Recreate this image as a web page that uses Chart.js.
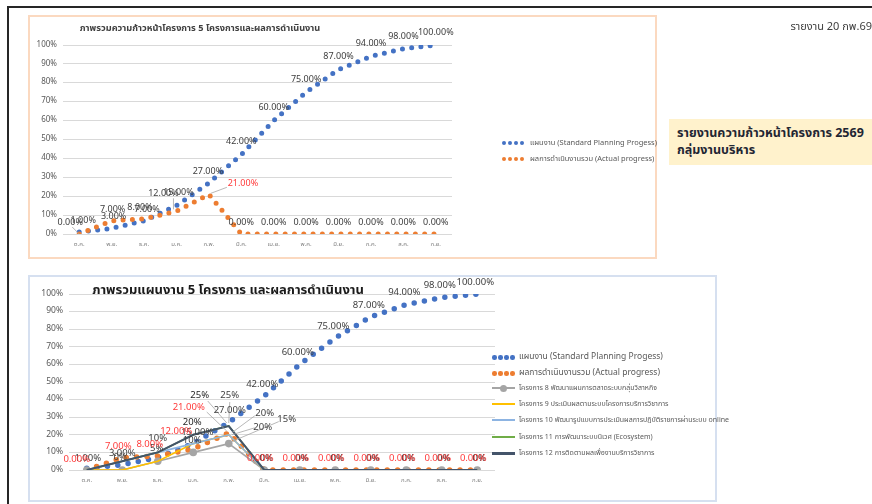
<!DOCTYPE html>
<html>
<head>
<meta charset="utf-8">
<script src="https://cdn.jsdelivr.net/npm/chart.js@4.4.1/dist/chart.umd.min.js"></script>
<style>
  body { margin: 0; background: #fff; }
  #page { position: relative; width: 872px; height: 504px; overflow: hidden;
          font-family: "Noto Sans Thai", Tahoma, "DejaVu Sans", "Noto Sans", sans-serif; }
  .abs { position: absolute; }
  .frameTop { left: 7px; top: 6px; width: 865px; height: 2px; background: #262626; }
  .frameLeft { left: 7px; top: 6px; width: 2px; height: 498px; background: #262626; }
  #box1 { left: 28px; top: 15px; width: 629px; height: 244px; box-sizing: border-box; border: 2px solid #fbd9c0; }
  #box2 { left: 28px; top: 275px; width: 689px; height: 227px; box-sizing: border-box; border: 2px solid #d6e0f0; }
  #c1wrap { left: 30px; top: 17px; width: 625px; height: 240px; }
  #c2wrap { left: 30px; top: 277px; width: 685px; height: 222px; }
  .title1 { left: 60px; width: 280px; top: 21px; text-align: center; font-size: 9.2px; font-weight: bold; color: #404040; white-space: nowrap; }
  .title2 { left: 78px; width: 300px; top: 280px; text-align: center; font-size: 13px; font-weight: bold; color: #1a1a1a; white-space: nowrap; }
  .leg { font-size: 7.5px; color: #595959; white-space: nowrap; line-height: 10px; }
  .dots { position: absolute; width: 24px; height: 4px; }
  .dots i { position: absolute; top: 0; width: 4px; height: 4px; border-radius: 50%; }
  .ln { position: absolute; height: 2px; width: 23px; }
  .report { right: 0; top: 18px; font-size: 11px; color: #404040; white-space: nowrap; }
  .hl { left: 669px; top: 119px; width: 210px; height: 46px; background: #fff2cc; }
  .hl div { position: absolute; left: 8px; font-size: 12.5px; font-weight: bold; color: #1f2633; white-space: nowrap; }
</style>
</head>
<body>
<div id="page">
  <div class="abs frameTop"></div>
  <div class="abs frameLeft"></div>
  <div class="abs" id="box1"></div>
  <div class="abs" id="box2"></div>
  <div class="abs" id="c1wrap"><canvas id="chart1"></canvas></div>
  <div class="abs" id="c2wrap"><canvas id="chart2"></canvas></div>
  <div class="abs title1">ภาพรวมความก้าวหน้าโครงการ 5 โครงการและผลการดำเนินงาน</div>
  <div class="abs title2">ภาพรวมแผนงาน 5 โครงการ และผลการดำเนินงาน</div>

  <div class="abs report">รายงาน 20 กพ.69</div>
  <div class="abs hl">
    <div style="top:5px">รายงานความก้าวหน้าโครงการ 2569</div>
    <div style="top:22px">กลุ่มงานบริหาร</div>
  </div>
</div>

<script>
const FONT = '"Noto Sans Thai", Tahoma, "DejaVu Sans", "Noto Sans", sans-serif';

// เดือนปีงบประมาณ
const months = ["ต.ค.", "พ.ย.", "ธ.ค.", "ม.ค.", "ก.พ.", "มี.ค.", "เม.ย.", "พ.ค.", "มิ.ย.", "ก.ค.", "ส.ค.", "ก.ย."];

// แผนงาน / ผลการดำเนินงานรวม (%)
const planned = [1, 3, 7, 15, 27, 42, 60, 75, 87, 94, 98, 100];
const actual = [0, 7, 8, 12, 21, 0, 0, 0, 0, 0, 0, 0];

// รายโครงการ (%)
const project8 = [0, 0, 5, 10, 15, 0, 0, 0, 0, 0, 0, 0];
const project9 = [0, 0, 5, 15, 20, 0, 0, 0, 0, 0, 0, 0];
const project10 = [0, 5, 10, 15, 20, 0, 0, 0, 0, 0, 0, 0];
const project11 = [0, 5, 10, 20, 25, 0, 0, 0, 0, 0, 0, 0];
const project12 = [0, 5, 10, 20, 25, 0, 0, 0, 0, 0, 0, 0];

const yTicks = [0, 10, 20, 30, 40, 50, 60, 70, 80, 90, 100];

const legendMain = ["แผนงาน (Standard Planning Progess)", "ผลการดำเนินงานรวม (Actual progress)"];
const legendProjects = [
  "โครงการ 8 พัฒนาแผนการตลาดระบบกลุ่มวิสาหกิจ",
  "โครงการ 9 ประเมินผลตามระบบโครงการบริการวิชาการ",
  "โครงการ 10 พัฒนารูปแบบการประเมินผลการปฏิบัติราชการผ่านระบบ online",
  "โครงการ 11 การพัฒนาระบบนิเวศ (Ecosystem)",
  "โครงการ 12 การติดตามผลเพื่องานบริการวิชาการ",
];

const BLUE = "#4472c4", ORANGE = "#ed7d31", GRAY = "#a5a5a5", YELLOW = "#ffc000",
      LBLUE = "#8db4e2", GREEN = "#70ad47", NAVY = "#44546a", RED = "#ff3b3b", TXT = "#404040";

const pct2 = (v) => v.toFixed(2) + "%";
const pct0 = (v) => v + "%";

// draws value labels next to points, with optional leader lines
const pointLabels = {
  id: "pointLabels",
  afterDatasetsDraw(chart, args, opts) {
    const ctx = chart.ctx;
    ctx.save();
    ctx.textAlign = "center";
    ctx.textBaseline = "middle";
    (opts.items || []).forEach((item) => {
      const meta = chart.getDatasetMeta(item.ds);
      const values = chart.data.datasets[item.ds].data;
      ctx.font = (item.size || 9) + "px " + FONT;
      item.at.forEach(([i, dx, dy, lead]) => {
        const p = meta.data[i];
        const x = p.x + dx, y = p.y + dy;
        if (lead) {
          ctx.strokeStyle = "#a6a6a6";
          ctx.lineWidth = 0.8;
          ctx.beginPath();
          ctx.moveTo(x + lead[0], y + lead[1]);
          ctx.lineTo(p.x + (lead[2] || 0), p.y + (lead[3] || 0));
          ctx.stroke();
        }
        ctx.fillStyle = item.red && item.red.includes(i) ? RED : item.color;
        ctx.fillText(item.fmt(values[i]), x, y);
      });
    });
    ctx.restore();
  },
};

const range = (a, b, dx, dy) => {
  const out = [];
  for (let i = a; i <= b; i++) out.push([i, dx, dy]);
  return out;
};

function dotted(label, data, color, w, gap, order) {
  return {
    label, data, borderColor: color, backgroundColor: color, order,
    borderWidth: w, borderDash: [0, gap], borderCapStyle: "round",
    pointRadius: 0, tension: 0, fill: false,
  };
}

function solid(label, data, color, w, marker, order) {
  return {
    label, data, borderColor: color, backgroundColor: color, order,
    borderWidth: w, pointRadius: marker ? 3.8 : 0, pointBorderWidth: 0,
    tension: 0, fill: false,
  };
}

function makeScales(yWidth, xHeight, tickSize, xTickSize) {
  return {
    x: {
      offset: true,
      grid: { display: false, drawTicks: false },
      border: { display: false },
      ticks: { font: { size: xTickSize, family: FONT }, color: "#7f7f7f", padding: 7, maxRotation: 0, autoSkip: false },
      afterFit: (s) => { s.height = xHeight; },
    },
    y: {
      min: 0, max: 100,
      afterBuildTicks: (s) => { s.ticks = yTicks.map((v) => ({ value: v })); },
      grid: { color: "#d9d9d9", drawTicks: false },
      border: { display: false },
      ticks: { font: { size: tickSize, family: FONT }, color: "#595959", padding: 6, callback: (v) => v + "%" },
      afterFit: (s) => { s.width = yWidth; },
    },
  };
}

// ---- chart 1 ----
new Chart(document.getElementById("chart1"), {
  type: "line",
  data: {
    labels: months,
    datasets: [
      dotted(legendMain[0], planned, BLUE, 5, 9.3, 2),
      dotted(legendMain[1], actual, ORANGE, 5, 9.3, 1),
    ],
  },
  options: {
    responsive: true, maintainAspectRatio: false, animation: false, events: [],
    layout: { padding: { top: 28, right: 203, left: 0, bottom: 0 } },
    scales: makeScales(33, 23, 8, 6),
    plugins: {
      legend: { display: false }, tooltip: { enabled: false },
      pointLabels: {
        items: [
          { ds: 0, color: TXT, fmt: pct2, size: 9,
            at: [[0, 4, -11], [1, 2, -11], [2, 3, -11], [3, 2, -12], [4, -1, -11]].concat(range(5, 11, 0, -12)) },
          { ds: 1, color: TXT, fmt: pct2, size: 9, red: [4],
            at: [[0, -9, -11, [2, 4]], [1, 1, -11], [2, -4, -11], [3, -13, -17, [10, 4, -3, -2]],
                 [4, 34, -10, [-16, 3, 2, -1]]].concat(range(5, 11, 0, -11)) },
        ],
      },
    },
  },
  plugins: [pointLabels],
});

// ---- chart 2 ----
new Chart(document.getElementById("chart2"), {
  type: "line",
  data: {
    labels: months,
    datasets: [
      dotted(legendMain[0], planned, BLUE, 5.5, 10.4, 7),
      dotted(legendMain[1], actual, ORANGE, 5.5, 10.4, 6),
      solid(legendProjects[0], project8, GRAY, 1.6, true, 5),
      solid(legendProjects[1], project9, YELLOW, 1.6, false, 4),
      solid(legendProjects[2], project10, LBLUE, 1.6, false, 3),
      solid(legendProjects[3], project11, GREEN, 1.6, false, 2),
      solid(legendProjects[4], project12, NAVY, 2, false, 1),
    ],
  },
  options: {
    responsive: true, maintainAspectRatio: false, animation: false, events: [],
    layout: { padding: { top: 17, right: 220, left: 0, bottom: 0 } },
    scales: makeScales(39, 29, 8.5, 6),
    plugins: {
      legend: { display: false }, tooltip: { enabled: false },
      pointLabels: {
        items: [
          { ds: 2, color: TXT, fmt: pct0, size: 9.5,
            at: [[1, -2, -12], [2, -1, -12], [3, -1, -11], [4, 58, -24, [-8, 2, 3, -2]]] },
          { ds: 3, color: TXT, fmt: pct0, size: 9.5, at: [[4, 34, -7, [-8, 0, 3, 0]]] },
          { ds: 4, color: TXT, fmt: pct0, size: 9.5,
            at: [[2, 0, -13], [4, 36, -21, [-10, 2, 3, -2]]] },
          { ds: 5, color: TXT, fmt: pct0, size: 9.5, at: [[4, 1, -30, [0, 6, 0, -3]]] },
          { ds: 6, color: "#262626", fmt: pct0, size: 9.5,
            at: [[3, -1, -12], [4, -29, -30, [8, 5, -2, -3]]].concat(range(5, 11, 2, -11)) },
          { ds: 0, color: TXT, fmt: pct2, size: 9.5,
            at: [[0, 1, -9], [1, 0, -11], [3, 4, -11], [4, 1, -11]].concat(range(5, 11, -2, -11)) },
          { ds: 1, color: RED, fmt: pct2, size: 9.5,
            at: [[0, -10, -10], [1, -4, -11], [2, -8, -11], [3, -17, -17],
                 [4, -40, -25, [18, 4, -2, -2]]].concat(range(5, 11, -4, -11)) },
        ],
      },
    },
  },
  plugins: [pointLabels],
});

// ---- legends (HTML) ----
function dotSymbol(color, left, top, size) {
  const d = document.createElement("div");
  d.className = "dots";
  d.style.left = left + "px";
  d.style.top = top + "px";
  for (let k = 0; k < 4; k++) {
    const i = document.createElement("i");
    i.style.left = k * 6 + "px";
    i.style.width = i.style.height = size + "px";
    i.style.background = color;
    d.appendChild(i);
  }
  return d;
}

function lineSymbol(color, left, top, marker, h) {
  const l = document.createElement("div");
  l.className = "ln";
  l.style.left = left + "px";
  l.style.top = top + "px";
  l.style.height = h + "px";
  l.style.background = color;
  if (marker) {
    const m = document.createElement("div");
    m.style.cssText = "position:absolute;left:8px;top:-2.5px;width:7px;height:7px;border-radius:50%;background:" + color;
    l.appendChild(m);
  }
  return l;
}

function legendText(text, left, cy, size) {
  const t = document.createElement("div");
  t.className = "abs leg";
  t.style.left = left + "px";
  t.style.top = (cy - 5) + "px";
  if (size) t.style.fontSize = size + "px";
  t.textContent = text;
  return t;
}

const page = document.getElementById("page");
[[BLUE, 143], [ORANGE, 159]].forEach(([c, cy], k) => {
  page.appendChild(dotSymbol(c, 502, cy - 2, 4));
  page.appendChild(legendText(legendMain[k], 530, cy, 7.5));
});

const rows2 = [357, 373, 388, 404, 420, 437, 453];
page.appendChild(dotSymbol(BLUE, 492, rows2[0] - 2, 4.5));
page.appendChild(legendText(legendMain[0], 519, rows2[0], 8.5));
page.appendChild(dotSymbol(ORANGE, 492, rows2[1] - 2, 4.5));
page.appendChild(legendText(legendMain[1], 519, rows2[1], 8.5));
[[GRAY, true, 2], [YELLOW, false, 2], [LBLUE, false, 2], [GREEN, false, 2], [NAVY, false, 3]].forEach(([c, m, h], k) => {
  page.appendChild(lineSymbol(c, 492, rows2[k + 2] - 1, m, h));
  page.appendChild(legendText(legendProjects[k], 519, rows2[k + 2], 7));
});
</script>
</body>
</html>
